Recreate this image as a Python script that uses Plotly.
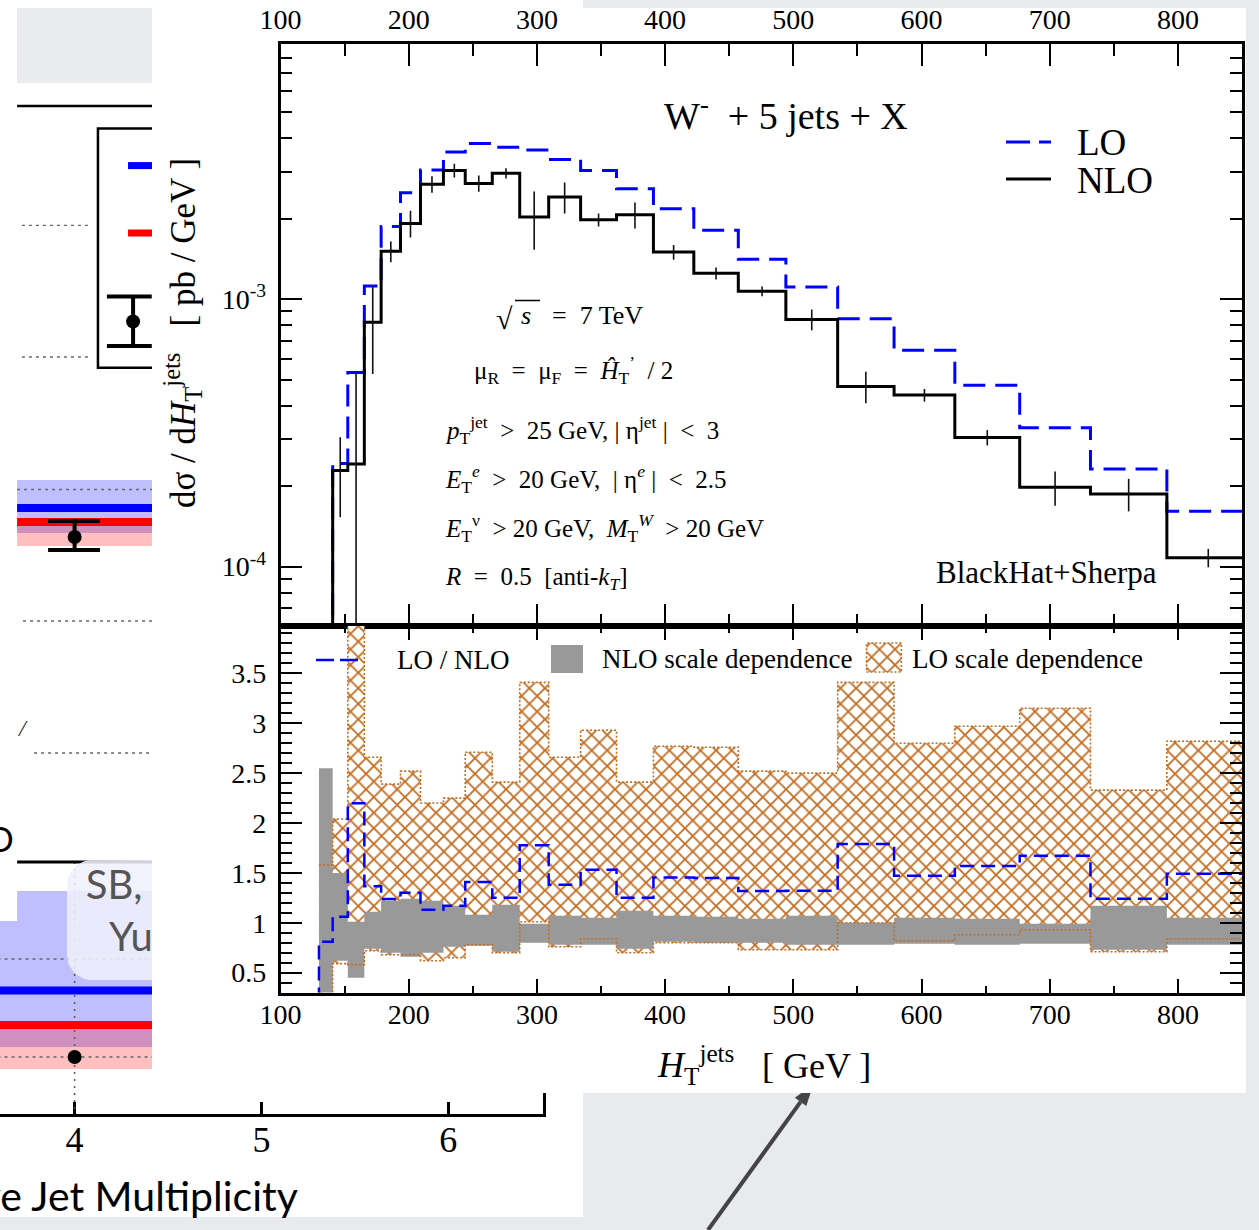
import math
import plotly.graph_objects as go

FIG_W, FIG_H = 1259, 1230
SERIF = "Liberation Serif"
SANS = "Lato"

# ---------------- W- + 5 jets + X : H_T^jets distribution ----------------
# bin edges in GeV
ht_edges = [130.0, 140.7, 152.5, 165.4, 178.5, 193.6, 209.2, 227.1, 244.1,
            265.2, 286.6, 309.2, 334.1, 362.1, 390.9, 422.4, 457.1, 494.2,
            534.6, 578.6, 626.0, 676.6, 731.8, 791.4, 856.0]

# d sigma / d H_T  [pb / GeV]
nlo_xsec = [4.0e-5, 2.29e-4, 2.42e-4, 8.2e-4, 1.51e-3, 1.92e-3, 2.69e-3, 3.03e-3,
            2.71e-3, 2.96e-3, 2.03e-3, 2.41e-3, 1.98e-3, 2.07e-3, 1.50e-3, 1.25e-3,
            1.07e-3, 8.40e-4, 4.72e-4, 4.38e-4, 3.04e-4, 1.98e-4, 1.87e-4, 1.08e-4]
nlo_err = [1.5e-5, 7.6e-5, 2.85e-4, 2.95e-4, 1.35e-4, 2.2e-4, 1.9e-4, 1.8e-4,
           1.9e-4, 1.3e-4, 5.0e-4, 3.2e-4, 1.1e-4, 2.3e-4, 9.5e-5, 6.5e-5,
           4.5e-5, 7.5e-5, 6.4e-5, 2.4e-5, 2.0e-5, 2.9e-5, 2.6e-5, 8.5e-6]
lo_xsec = [3.24e-5, 2.43e-4, 5.32e-4, 1.12e-3, 1.87e-3, 2.50e-3, 3.04e-3, 3.55e-3,
           3.82e-3, 3.70e-3, 3.61e-3, 3.33e-3, 3.03e-3, 2.59e-3, 2.18e-3, 1.81e-3,
           1.41e-3, 1.11e-3, 8.45e-4, 6.44e-4, 4.77e-4, 3.31e-4, 2.32e-4, 1.61e-4]

# scale-variation envelopes, normalised to the central NLO prediction
nlo_band_lo = [0.20, 0.62, 0.45, 0.74, 0.70, 0.66, 0.70, 0.76, 0.77, 0.71, 0.80, 0.78,
               0.78, 0.74, 0.81, 0.80, 0.80, 0.78, 0.78, 0.79, 0.78, 0.79, 0.73, 0.78]
nlo_band_hi = [2.55, 1.50, 1.01, 1.11, 1.22, 1.24, 1.22, 1.17, 1.08, 1.18, 0.99, 1.07,
               1.05, 1.12, 1.07, 1.06, 1.04, 1.07, 1.00, 1.05, 1.04, 0.99, 1.17, 1.05]
lo_band_lo = [0.20, 0.59, 0.58, 0.72, 0.68, 0.68, 0.62, 0.65, 0.78, 0.70, 1.01, 0.76,
              0.84, 0.70, 0.80, 0.80, 0.73, 0.73, 1.00, 0.82, 0.88, 0.93, 0.71, 0.84]
lo_band_hi = [1.58, 2.04, 4.50, 2.66, 2.39, 2.52, 2.20, 2.25, 2.71, 2.41, 3.41, 2.66,
              2.93, 2.41, 2.77, 2.76, 2.52, 2.50, 3.41, 2.80, 2.97, 3.15, 2.33, 2.82]

ht_ticks = [100, 200, 300, 400, 500, 600, 700, 800]
ht_minor = [150, 250, 350, 450, 550, 650, 750, 850]
xsec_ticks = [1e-4, 1e-3]
xsec_labels = ["10<sup>-4</sup>", "10<sup>-3</sup>"]
ratio_ticks = [0.5, 1, 1.5, 2, 2.5, 3, 3.5]
ratio_labels = ["0.5", "1", "1.5", "2", "2.5", "3", "3.5"]

# ---------------- slide chart partly hidden behind the figure ----------------
mult_ticks = [4, 5, 6]
mult_labels = ["4", "5", "6"]
# rows measured from the top of the slide; x in jet multiplicity
upper_blue_band = [480, 533]
upper_red_band = [526, 546]
upper_blue_line, upper_red_line = 508, 522
upper_point, upper_point_err = 537, [521, 550]
lower_blue_band_top = [921, 891]
lower_blue_band_bottom = 1047
lower_red_band = [1025, 1069]
lower_blue_line, lower_red_line = 990.5, 1025
lower_point = 1057
dotted_rows = [(489.5, 3.692), (959, 3.55), (1057, 3.55), (621, 3.724), (753, 3.783)]
legend_dotted_rows = [225.4, 357]

# ---------------- geometry ----------------
def fx(px):
    return px / FIG_W


def fy(py):
    return 1 - py / FIG_H


X_L, X_R = 280.5, 1242.0
TOP_T, TOP_B = 44.0, 626.0
RAT_T, RAT_B = 626.0, 992.6
X_RANGE = [100, 850]
Y_RANGE = [math.log10(6e-5), math.log10(9e-3)]
R_RANGE = [0.3, 3.975]


def ratio_x(px):
    return X_RANGE[0] + (px - X_L) * (X_RANGE[1] - X_RANGE[0]) / (X_R - X_L)


def ratio_y(py):
    return R_RANGE[0] + (RAT_B - py) * (R_RANGE[1] - R_RANGE[0]) / (RAT_B - RAT_T)


def step_xy(vals):
    return list(ht_edges), list(vals) + [vals[-1]]


BLUE = "#0000ff"
GREY = "#999999"
ORANGE = "#c26d22"
HATCH = dict(shape="x", fgcolor=ORANGE, bgcolor="white", size=11, solidity=0.3,
             fillmode="replace")

fig = go.Figure()

# ---------------- top panel ----------------
x_s, y_s = step_xy(lo_xsec)
fig.add_trace(go.Scatter(x=x_s, y=y_s, mode="lines", line_shape="hv",
                         line=dict(color=BLUE, width=3, dash="22px,10px"),
                         xaxis="x", yaxis="y"))
x_s, y_s = step_xy(nlo_xsec)
fig.add_trace(go.Scatter(x=x_s, y=y_s, mode="lines", line_shape="hv",
                         line=dict(color="black", width=3), xaxis="x", yaxis="y"))
ex, ey = [], []
for i, (v, e) in enumerate(zip(nlo_xsec, nlo_err)):
    c = 0.5 * (ht_edges[i] + ht_edges[i + 1])
    ex += [c, c, None]
    ey += [max(v - e, 1e-7), v + e, None]
fig.add_trace(go.Scatter(x=ex, y=ey, mode="lines", line=dict(color="#111111", width=1.6),
                         xaxis="x", yaxis="y"))

# ---------------- ratio panel ----------------
x_s, y_s = step_xy(lo_band_lo)
fig.add_trace(go.Scatter(x=x_s, y=y_s, mode="lines", line_shape="hv",
                         line=dict(width=0), xaxis="x2", yaxis="y2"))
x_s, y_s = step_xy(lo_band_hi)
fig.add_trace(go.Scatter(x=x_s, y=y_s, mode="lines", line_shape="hv", line=dict(width=0),
                         fill="tonexty", fillcolor="rgba(0,0,0,0)", fillpattern=HATCH,
                         xaxis="x2", yaxis="y2"))
x_s, y_s = step_xy(nlo_band_lo)
fig.add_trace(go.Scatter(x=x_s, y=y_s, mode="lines", line_shape="hv",
                         line=dict(width=0), xaxis="x2", yaxis="y2"))
x_s, y_s = step_xy(nlo_band_hi)
fig.add_trace(go.Scatter(x=x_s, y=y_s, mode="lines", line_shape="hv", line=dict(width=0),
                         fill="tonexty", fillcolor=GREY, xaxis="x2", yaxis="y2"))
for band in (lo_band_lo, lo_band_hi):
    x_s, y_s = step_xy(band)
    fig.add_trace(go.Scatter(x=x_s, y=y_s, mode="lines", line_shape="hv",
                             line=dict(color=ORANGE, width=1.6, dash="2px,2px"),
                             xaxis="x2", yaxis="y2"))
ratio = [l / n for l, n in zip(lo_xsec, nlo_xsec)]
fig.add_trace(go.Scatter(x=[ht_edges[0]] + list(ht_edges), y=[0.0] + ratio + [ratio[-1]],
                         mode="lines", line_shape="hv",
                         line=dict(color=BLUE, width=2.5, dash="14px,7px"),
                         xaxis="x2", yaxis="y2"))

# legend swatch for the LO scale band
sx0, sx1 = ratio_x(866.5), ratio_x(901.4)
sy0, sy1 = ratio_y(672), ratio_y(643)
fig.add_trace(go.Scatter(x=[sx0, sx1, sx1, sx0, sx0], y=[sy0, sy0, sy1, sy1, sy0],
                         mode="lines", fill="toself", fillcolor="rgba(0,0,0,0)",
                         fillpattern=HATCH,
                         line=dict(color=ORANGE, width=1.6, dash="2px,2px"),
                         xaxis="x2", yaxis="y2"))

# ---------------- slide chart behind the figure ----------------
XB0, XB1 = 3.55, 4.45


def rect(x0, x1, y0, y1, color):
    return go.Scatter(x=[x0, x1, x1, x0, x0], y=[y0, y0, y1, y1, y0], mode="lines",
                      fill="toself", fillcolor=color, line=dict(width=0),
                      xaxis="x4", yaxis="y4")


def seg(xs, ys, color, width, dash="solid"):
    return go.Scatter(x=xs, y=ys, mode="lines", line=dict(color=color, width=width, dash=dash),
                      xaxis="x4", yaxis="y4")


BLUE_BAND = "rgba(0,0,255,0.25)"
RED_BAND = "rgba(255,0,0,0.25)"

fig.add_trace(rect(3.692, XB1, upper_blue_band[0], upper_blue_band[1], BLUE_BAND))
fig.add_trace(rect(3.692, XB1, upper_red_band[0], upper_red_band[1], RED_BAND))
fig.add_trace(go.Scatter(
    x=[XB0, 3.692, 3.692, XB1, XB1, XB0, XB0],
    y=[lower_blue_band_top[0], lower_blue_band_top[0], lower_blue_band_top[1],
       lower_blue_band_top[1], lower_blue_band_bottom, lower_blue_band_bottom,
       lower_blue_band_top[0]],
    mode="lines", fill="toself", fillcolor=BLUE_BAND, line=dict(width=0),
    xaxis="x4", yaxis="y4"))
fig.add_trace(rect(XB0, XB1, lower_red_band[0], lower_red_band[1], RED_BAND))

for row, x0 in dotted_rows:
    fig.add_trace(seg([x0, XB1], [row, row], "#666666", 1.3, "3px,4px"))
for row in legend_dotted_rows:
    fig.add_trace(seg([3.718, 4.082], [row, row], "#666666", 1.3, "3px,4px"))
fig.add_trace(seg([4, 4], [862, 1113.5], "#555555", 1.5, "2px,5px"))

fig.add_trace(seg([3.692, XB1], [upper_blue_line] * 2, BLUE, 8))
fig.add_trace(seg([3.692, XB1], [upper_red_line] * 2, "#ff0000", 8))
fig.add_trace(seg([XB0, XB1], [lower_blue_line] * 2, BLUE, 8))
fig.add_trace(seg([XB0, XB1], [lower_red_line] * 2, "#ff0000", 8))

# measured point with error bar
fig.add_trace(seg([4, 4, None, 3.858, 4.136, None, 3.858, 4.136],
                  [upper_point_err[0], upper_point_err[1], None,
                   upper_point_err[0], upper_point_err[0], None,
                   upper_point_err[1], upper_point_err[1]], "black", 4))
fig.add_trace(go.Scatter(x=[4, 4], y=[upper_point, lower_point], mode="markers",
                         marker=dict(color="black", size=14), xaxis="x4", yaxis="y4"))

# rules and legend frame
fig.add_trace(seg([3.692, XB1], [106, 106], "black", 2.5))
fig.add_trace(seg([XB1, 4.125, 4.125, XB1], [128.5, 128.5, 367.7, 367.7], "black", 2.5))
fig.add_trace(seg([4.286, XB1], [165.6, 165.6], BLUE, 7))
fig.add_trace(seg([4.286, XB1], [233, 233], "#ff0000", 7))
fig.add_trace(seg([4.313, 4.313, None, 4.173, 4.413, None, 4.173, 4.413],
                  [296.6, 346, None, 296.6, 296.6, None, 346, 346], "black", 4))
fig.add_trace(go.Scatter(x=[4.313], y=[321.5], mode="markers",
                         marker=dict(color="black", size=14), xaxis="x4", yaxis="y4"))
fig.add_trace(seg([3.692, XB1], [862, 862], "black", 3))

# rounded info box
bx0, bx1, by0, by1 = 3.959, 4.5, 860, 980
rx, ry = 25 / 186.8, 25
pts_x, pts_y = [bx1, bx0 + rx], [by0, by0]
for k in range(11):
    a = math.pi / 2 + k * (math.pi / 2) / 10
    pts_x.append(bx0 + rx + rx * math.cos(a))
    pts_y.append(by0 + ry - ry * math.sin(a))
for k in range(11):
    a = math.pi + k * (math.pi / 2) / 10
    pts_x.append(bx0 + rx + rx * math.cos(a))
    pts_y.append(by1 - ry - ry * math.sin(a))
pts_x += [bx1, bx1]
pts_y += [by1, by0]
fig.add_trace(go.Scatter(x=pts_x, y=pts_y, mode="lines", fill="toself",
                         fillcolor="rgba(240,240,252,0.88)", line=dict(width=0),
                         xaxis="x4", yaxis="y4"))
fig.add_trace(go.Scatter(x=[4.211], y=[889], mode="text", text=["SB,"],
                         textposition="middle center",
                         textfont=dict(family=SANS, size=40, color="#555555"),
                         xaxis="x4", yaxis="y4"))
fig.add_trace(go.Scatter(x=[4.184], y=[941], mode="text", text=["Yu"],
                         textposition="middle right",
                         textfont=dict(family=SANS, size=40, color="#555555"),
                         xaxis="x4", yaxis="y4"))
fig.add_trace(go.Scatter(x=[3.6006], y=[843], mode="text", text=["O"],
                         textposition="middle center",
                         textfont=dict(family=SANS, size=34, color="black"),
                         xaxis="x4", yaxis="y4"))
fig.add_trace(go.Scatter(x=[3.72], y=[730], mode="text", text=["<i>/</i>"],
                         textposition="middle center",
                         textfont=dict(family=SERIF, size=24, color="#333333"),
                         xaxis="x4", yaxis="y4"))
fig.add_trace(go.Scatter(x=[], y=[], xaxis="x3", yaxis="y3"))

# ---------------- axes ----------------
tick_font = dict(family=SERIF, size=28, color="black")
common = dict(showline=True, linecolor="black", linewidth=2.5, mirror="ticks",
              ticks="inside", tickcolor="black", tickwidth=2, showgrid=False,
              zeroline=False, tickfont=tick_font, automargin=False)

layout_axes = dict(
    xaxis=dict(domain=[fx(X_L), fx(X_R)], range=X_RANGE, anchor="y", side="top",
               tickvals=ht_ticks, ticklen=22, ticklabelstandoff=1,
               minor=dict(tickvals=ht_minor, ticklen=12, tickwidth=2, ticks="inside"),
               **common),
    yaxis=dict(domain=[fy(TOP_B), fy(TOP_T)], range=Y_RANGE, type="log", anchor="x",
               tickvals=xsec_ticks, ticktext=xsec_labels, ticklen=22, ticklabelstandoff=6,
               minor=dict(tickvals=[k * 10 ** e for e in (-5, -4, -3) for k in range(2, 10)],
                          ticklen=12, tickwidth=2, ticks="inside"),
               **common),
    xaxis2=dict(domain=[fx(X_L), fx(X_R)], range=X_RANGE, anchor="y2",
                tickvals=ht_ticks, ticklen=14, ticklabelstandoff=-5,
                minor=dict(tickvals=ht_minor, ticklen=7, tickwidth=2, ticks="inside"),
                **common),
    yaxis2=dict(domain=[fy(RAT_B), fy(RAT_T)], range=R_RANGE, anchor="x2",
                tickvals=ratio_ticks, ticktext=ratio_labels, ticklen=22, ticklabelstandoff=6,
                minor=dict(dtick=0.1, tick0=0, ticklen=12, tickwidth=2, ticks="inside"),
                **common),
    xaxis3=dict(domain=[0, fx(542.7)], range=[3.6006, 6.506], anchor="y3",
                showline=True, linecolor="black", linewidth=3, ticks="inside",
                ticklen=12, tickwidth=2.5, tickcolor="black", tickvals=mult_ticks,
                ticktext=mult_labels, showgrid=False, zeroline=False, automargin=False,
                tickfont=dict(family=SERIF, size=36, color="black"), ticklabelstandoff=-8),
    yaxis3=dict(domain=[fy(1113.5), fy(1093)], range=[0, 1], anchor="x3", side="right",
                showline=True, linecolor="black", linewidth=2.5, ticks="",
                showticklabels=False, showgrid=False, zeroline=False, automargin=False),
    xaxis4=dict(domain=[0, fx(152)], range=[3.6006, 3.6006 + 152 / 186.8], anchor="y4",
                visible=False, automargin=False),
    yaxis4=dict(domain=[fy(1113.5), 1.0], range=[1113.5, 0], anchor="x4", visible=False,
                automargin=False),
)


def label(text, x, y, size, xanchor="left", family=SERIF, color="black", angle=0):
    return dict(text=text, x=fx(x), y=fy(y), xref="paper", yref="paper",
                xanchor=xanchor, yanchor="middle", showarrow=False, textangle=angle,
                font=dict(family=family, size=size, color=color))


NB = "\u00a0"
annotations = [
    label("W<sup>-</sup>" + NB + " + 5 jets + X", 662, 113, 38),
    label("LO", 1075, 143, 37),
    label("NLO", 1075, 180, 37),
    label("√", 494, 318, 30),
    label("<i>s</i>", 519, 316, 26),
    label("=" + NB + " 7 TeV", 550, 316, 26),
    label("μ<sub>R</sub>" + NB + " =" + NB + " μ<sub>F</sub>" + NB + " =" + NB +
          " <i>Ĥ</i><sub>T</sub><sup>’</sup>" + NB + " / 2", 472, 370, 25),
    label("<i>p</i><sub>T</sub><sup>jet</sup>" + NB + " >" + NB + " 25 GeV, | η<sup>jet</sup> |"
          + NB + " <" + NB + " 3", 443, 430, 25),
    label("<i>E</i><sub>T</sub><sup><i>e</i></sup>" + NB + " >" + NB + " 20 GeV," + NB +
          " | η<sup><i>e</i></sup> |" + NB + " <" + NB + " 2.5", 443, 479, 25),
    label("<i>E</i><sub>T</sub><sup>ν</sup>" + NB + " > 20 GeV," + NB + " <i>M</i><sub>T</sub>"
          "<sup><i>W</i></sup>" + NB + " > 20 GeV", 443, 528, 25),
    label("<i>R</i>" + NB + " =" + NB + " 0.5" + NB + " [anti-<i>k</i><sub><i>T</i></sub>]",
          443, 578, 25),
    label("BlackHat+Sherpa", 1046, 572, 31, xanchor="center"),
    label("LO / NLO", 395, 660, 27),
    label("NLO scale dependence", 600, 659, 27),
    label("LO scale dependence", 910, 659, 27),
    label("dσ / d<i>H</i><sub>T</sub><sup>jets</sup>" + NB + NB + " [ pb / GeV ]",
          182, 333, 35, xanchor="center", angle=-90),
    label("<i>H</i><sub>T</sub><sup>jets</sup>", 655, 1065, 36),
    label("[ GeV ]", 760, 1066, 36),
    label("Inclusive Jet Multiplicity", 300, 1195, 41, xanchor="right", family=SANS),
]


def paper_rect(x0, y0, x1, y1, color, layer="below"):
    return dict(type="rect", xref="paper", yref="paper", x0=fx(x0), x1=fx(x1),
                y0=fy(y1), y1=fy(y0), fillcolor=color, line=dict(width=0), layer=layer)


def paper_line(x0, y0, x1, y1, color, width, dash="solid", layer="above"):
    return dict(type="line", xref="paper", yref="paper", x0=fx(x0), x1=fx(x1),
                y0=fy(y0), y1=fy(y1), line=dict(color=color, width=width, dash=dash),
                layer=layer)


# pointer arrow running from the slide into the figure
ax0, ay0 = 708, 1230
dx, dy = 0.586, -0.811
tip = (ax0 + 180 * dx, ay0 + 180 * dy)
base = (ax0 + 158 * dx, ay0 + 158 * dy)
c1 = (base[0] + 7 * 0.811, base[1] + 7 * 0.586)
c2 = (base[0] - 7 * 0.811, base[1] - 7 * 0.586)
head_path = "M{:.4f},{:.4f} L{:.4f},{:.4f} L{:.4f},{:.4f} Z".format(
    fx(tip[0]), fy(tip[1]), fx(c1[0]), fy(c1[1]), fx(c2[0]), fy(c2[1]))

shapes = [
    paper_rect(0, 0, 583, 1217, "white"),
    paper_rect(17, 8, 152, 83, "#e9ebef"),
    paper_line(ax0, ay0, base[0], base[1], "#444444", 4, layer="below"),
    dict(type="path", xref="paper", yref="paper", path=head_path, fillcolor="#444444",
         line=dict(width=0), layer="below"),
    paper_rect(152, 8, 1246, 1093, "white"),
    paper_line(515, 300.5, 540, 300.5, "black", 1.5),
    paper_line(1006, 142, 1051, 142, BLUE, 3, "24px,9px"),
    paper_line(1006, 179, 1051, 179, "black", 3),
    paper_line(316, 660, 361, 660, BLUE, 2.5, "18px,6px"),
    paper_rect(551, 645, 583, 673, GREY, layer="above"),
]

fig.update_layout(
    width=FIG_W, height=FIG_H, autosize=False,
    margin=dict(l=0, r=0, t=0, b=0, pad=0, autoexpand=False),
    paper_bgcolor="#e8eaee", plot_bgcolor="rgba(0,0,0,0)",
    showlegend=False, hovermode=False,
    annotations=annotations, shapes=shapes,
    **layout_axes,
)

fig.write_html("out.html")
